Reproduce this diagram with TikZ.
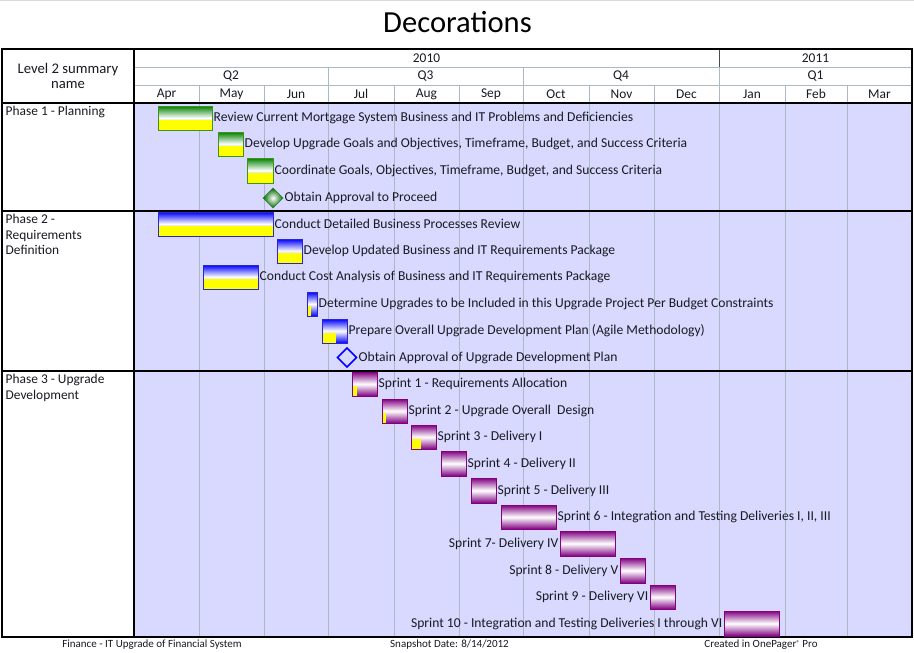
\documentclass[tikz,border=0pt]{standalone}
\usepackage{fontspec}
\setmainfont{Carlito}
\usetikzlibrary{shapes.geometric,calc}
\definecolor{lav}{RGB}{217,217,255}
\definecolor{gridc}{RGB}{170,186,196}
\definecolor{ink}{RGB}{25,25,35}
\definecolor{gtop}{RGB}{0,128,0}
\definecolor{gbord}{RGB}{60,150,20}
\definecolor{btop}{RGB}{0,0,255}
\definecolor{bbord}{RGB}{40,40,200}
\definecolor{ptop}{RGB}{128,0,128}
\definecolor{pbord}{RGB}{128,0,128}
\definecolor{ylw}{RGB}{255,255,0}
\newcommand\ganttbar[7]{%
  \node[#2, minimum width=#5pt, minimum height=#6pt] (#1) at (#3,#4) {};
  \fill[ylw] (#1.south west) rectangle ($(#1.south west)!0.4!(#1.north west)+(#7,0)$);
  \draw[#2b] (#1.south west) rectangle (#1.north east);
}
\begin{document}
\begin{tikzpicture}[x=1pt,y=-1pt,
  txt/.style={text=ink, inner sep=1.5pt, font=\fontsize{13.4}{15.6}\selectfont},
  hdr/.style={txt, anchor=center},
  lbl/.style={txt, font=\fontsize{13.6}{15.6}\selectfont},
  foot/.style={text=ink, inner sep=0pt, font=\fontsize{11}{13}\selectfont},
  barbase/.style={rectangle, inner sep=0pt, outer sep=0pt, line width=0.8pt, anchor=north west},
  gbar/.style={barbase, draw=gbord, top color=gtop, bottom color=gtop, middle color=white},
  gbarb/.style={draw=gbord, line width=0.8pt},
  bbar/.style={barbase, draw=bbord, top color=btop, bottom color=btop, middle color=white},
  bbarb/.style={draw=bbord, line width=0.8pt},
  pbar/.style={barbase, draw=pbord, top color=ptop, bottom color=ptop, middle color=white},
  pbarb/.style={draw=pbord, line width=0.8pt},
  grid/.style={draw=gridc, line width=0.8pt},
  frame/.style={draw=black, line width=1.2pt},
  sep/.style={draw=black, line width=2pt}
]
\useasboundingbox (0,0) rectangle (914,653);
\fill[white] (0,0) rectangle (914,653);
\draw[draw=gray!30, line width=0.8pt] (0,0.5) -- (914,0.5);

% title
\node[text=black, font=\fontsize{30.6}{34}\selectfont] (title) at (457.5,22) {Decorations};

% body background
\fill[lav] (134,103) rectangle (912,637);

% body grid lines
\foreach \gx in {199,264,328,394,459,523,589,654,719,785,847}
  \draw[grid] (\gx,103) -- (\gx,637);

% header grid
\draw[grid] (134,67) -- (912,67);
\draw[grid] (134,85) -- (912,85);
\foreach \gx in {199,264,328,394,459,523,589,654,719,785,847}
  \draw[grid] (\gx,85) -- (\gx,103);
\foreach \gx in {328,523,719}
  \draw[grid] (\gx,67) -- (\gx,85);
\draw[draw=black!70, line width=1pt] (719,49) -- (719,67);

% frame
\draw[frame] (2,49) rectangle (912,637);
\draw[frame] (134,49) -- (134,637);
\draw[frame] (2,103) -- (912,103);
\draw[sep] (2,211) -- (912,211);
\draw[sep] (2,371) -- (912,371);

% header text
\node[txt, font=\fontsize{14.7}{15.5}\selectfont, align=center] (lvl) at (68,76) {Level 2 summary\\name};
\node[hdr] (y10) at (426.5,58) {2010};
\node[hdr] (y11) at (815.5,58) {2011};
\node[hdr] (q2) at (231,76) {Q2};
\node[hdr] (q3) at (425.5,76) {Q3};
\node[hdr] (q4) at (621,76) {Q4};
\node[hdr] (q1) at (815.5,76) {Q1};
\node[hdr] (mapr) at (166.5,94) {Apr};
\node[hdr] (mmay) at (231.5,94) {May};
\node[hdr] (mjun) at (296,94) {Jun};
\node[hdr] (mjul) at (361,94) {Jul};
\node[hdr] (maug) at (426.5,94) {Aug};
\node[hdr] (msep) at (491,94) {Sep};
\node[hdr] (moct) at (556,94) {Oct};
\node[hdr] (mnov) at (621.5,94) {Nov};
\node[hdr] (mdec) at (686.5,94) {Dec};
\node[hdr] (mjan) at (752,94) {Jan};
\node[hdr] (mfeb) at (816,94) {Feb};
\node[hdr] (mmar) at (879.5,94) {Mar};

% phase labels
\node[txt, anchor=north west, align=left] (ph1) at (4,104.5) {Phase 1 - Planning};
\node[txt, anchor=north west, align=left] (ph2) at (4,212.5) {Phase 2 -\\Requirements\\Definition};
\node[txt, anchor=north west, align=left] (ph3) at (4,372.5) {Phase 3 - Upgrade\\Development};

% phase 1
\ganttbar{g1}{gbar}{158}{106}{54}{24}{54}
\ganttbar{g2}{gbar}{218}{132}{25}{24}{25}
\ganttbar{g3}{gbar}{247}{158}{26}{25}{26}
\node[diamond, minimum width=20pt, minimum height=20pt, inner sep=0pt, outer sep=0pt, draw={rgb,255:red,40;green,130;blue,30}, line width=0.6pt, inner color=white, outer color={rgb,255:red,0;green,105;blue,0}] (gm) at (273,198) {};
\node[lbl, anchor=west] (g1l) at (g1.east) {Review Current Mortgage System Business and IT Problems and Deficiencies};
\node[lbl, anchor=west] (g2l) at (g2.east) {Develop Upgrade Goals and Objectives, Timeframe, Budget, and Success Criteria};
\node[lbl, anchor=west] (g3l) at (g3.east) {Coordinate Goals, Objectives, Timeframe, Budget, and Success Criteria};
\node[lbl, anchor=west] (gml) at (gm.east) {Obtain Approval to Proceed};

% phase 2
\ganttbar{b1}{bbar}{158}{212}{115}{24}{115}
\ganttbar{b2}{bbar}{277}{239}{25}{24}{25}
\ganttbar{b3}{bbar}{203}{265}{55}{24}{55}
\ganttbar{b4}{bbar}{307}{292}{10}{24}{4}
\ganttbar{b5}{bbar}{322}{319}{25}{24}{14}
\node[diamond, minimum width=19pt, minimum height=19pt, inner sep=0pt, outer sep=0pt, draw=btop, line width=1.6pt] (bm) at (347,357.5) {};
\node[lbl, anchor=west] (b1l) at (b1.east) {Conduct Detailed Business Processes Review};
\node[lbl, anchor=west] (b2l) at (b2.east) {Develop Updated Business and IT Requirements Package};
\node[lbl, anchor=west] (b3l) at (b3.east) {Conduct Cost Analysis of Business and IT Requirements Package};
\node[lbl, anchor=west] (b4l) at (b4.east) {Determine Upgrades to be Included in this Upgrade Project Per Budget Constraints};
\node[lbl, anchor=west] (b5l) at (b5.east) {Prepare Overall Upgrade Development Plan (Agile Methodology)};
\node[lbl, anchor=west] (bml) at ([xshift=0.5pt]bm.east) {Obtain Approval of Upgrade Development Plan};

% phase 3
\ganttbar{p1}{pbar}{352}{372}{25}{24}{5}
\ganttbar{p2}{pbar}{382}{399}{25}{24}{4}
\ganttbar{p3}{pbar}{411}{425}{25}{24}{10}
\ganttbar{p4}{pbar}{441}{451}{25}{25}{0}
\ganttbar{p5}{pbar}{471}{478}{25}{25}{0}
\ganttbar{p6}{pbar}{501}{505}{55}{24}{0}
\ganttbar{p7}{pbar}{560}{531}{55}{25}{0}
\ganttbar{p8}{pbar}{620}{558}{25}{25}{0}
\ganttbar{p9}{pbar}{650}{585}{25}{24}{0}
\ganttbar{p10}{pbar}{724}{611}{55}{25}{0}
\node[lbl, anchor=west] (p1l) at (p1.east) {Sprint 1 - Requirements Allocation};
\node[lbl, anchor=west] (p2l) at (p2.east) {Sprint 2 - Upgrade Overall\ \ Design};
\node[lbl, anchor=west] (p3l) at (p3.east) {Sprint 3 - Delivery I};
\node[lbl, anchor=west] (p4l) at (p4.east) {Sprint 4 - Delivery II};
\node[lbl, anchor=west] (p5l) at (p5.east) {Sprint 5 - Delivery III};
\node[lbl, anchor=west] (p6l) at (p6.east) {Sprint 6 - Integration and Testing Deliveries I, II, III};
\node[lbl, anchor=east] (p7l) at (p7.west) {Sprint 7- Delivery IV};
\node[lbl, anchor=east] (p8l) at (p8.west) {Sprint 8 - Delivery V};
\node[lbl, anchor=east] (p9l) at (p9.west) {Sprint 9 - Delivery VI};
\node[lbl, anchor=east] (p10l) at (p10.west) {Sprint 10 - Integration and Testing Deliveries I through VI};

% footer
\node[foot] (f1) at (152,644.5) {Finance - IT Upgrade of Financial System};
\node[foot] (f2) at (449.5,644.5) {Snapshot Date: 8/14/2012};
\node[foot] (f3) at (761,644.5) {Created in OnePager\raisebox{0.45ex}{\fontsize{7}{8}\selectfont ®} Pro};
\end{tikzpicture}
\end{document}
